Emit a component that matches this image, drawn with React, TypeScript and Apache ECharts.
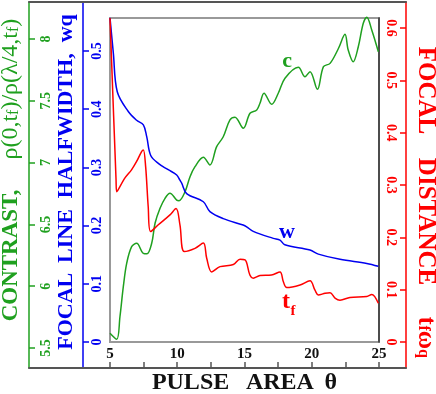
import React, { useEffect, useRef } from "react";
import * as echarts from "echarts";

// Pulse area (x) values and curves
const contrastX = [5, 5.5, 5.74, 5.99, 6.24, 6.61, 6.98, 7.48, 7.75, 8.1, 8.35, 8.72, 9.09, 9.46, 9.96, 10.13, 10.58, 10.95, 11.32, 11.94, 12.43, 12.93, 13.42, 13.92, 14.29, 14.91, 15.41, 15.91, 16.15, 16.45, 17.02, 17.51, 18.01, 19.0, 19.5, 19.87, 20.42, 20.87, 21.36, 21.99, 22.47, 22.71, 23.08, 23.46, 23.83, 24.09, 24.46, 24.95];
const contrastY = [5.619, 5.57, 5.753, 5.996, 6.185, 6.32, 6.347, 6.266, 6.262, 6.347, 6.509, 6.63, 6.711, 6.752, 6.697, 6.692, 6.765, 6.886, 6.967, 7.043, 6.981, 7.129, 7.209, 7.345, 7.366, 7.278, 7.399, 7.426, 7.48, 7.561, 7.472, 7.561, 7.682, 7.771, 7.695, 7.736, 7.593, 7.776, 7.803, 7.925, 8.038, 7.911, 7.816, 7.937, 8.127, 8.176, 8.073, 7.897];

const widthX = [5, 5.25, 5.54, 6.36, 6.98, 7.48, 7.73, 8.02, 8.59, 9.33, 9.96, 10.2, 10.33, 10.7, 11.94, 12.43, 13.42, 14.9, 15.16, 15.65, 17.14, 17.64, 18.0, 19.87, 20.49, 22.1, 24.09, 24.95];
const widthY = [0.557, 0.496, 0.43, 0.396, 0.381, 0.373, 0.353, 0.321, 0.307, 0.296, 0.287, 0.278, 0.273, 0.255, 0.241, 0.224, 0.212, 0.201, 0.198, 0.19, 0.178, 0.175, 0.167, 0.158, 0.151, 0.142, 0.135, 0.13];

const distX = [5, 5.45, 5.5, 6.1, 6.6, 6.98, 7.35, 7.48, 7.65, 7.84, 8.02, 8.59, 9.46, 9.91, 10.2, 10.52, 11.32, 11.94, 12.19, 12.56, 13.18, 14.17, 14.67, 15.04, 15.4, 15.65, 16.15, 17.0, 17.64, 17.89, 18.14, 19.13, 19.87, 20.24, 20.49, 20.99, 21.36, 21.73, 22.1, 22.84, 24.09, 24.46, 24.95];
const distY = [0.619, 0.31, 0.287, 0.313, 0.329, 0.345, 0.364, 0.367, 0.335, 0.259, 0.211, 0.224, 0.243, 0.255, 0.224, 0.173, 0.179, 0.189, 0.16, 0.134, 0.144, 0.148, 0.158, 0.157, 0.128, 0.122, 0.127, 0.128, 0.134, 0.115, 0.104, 0.109, 0.117, 0.099, 0.09, 0.093, 0.094, 0.084, 0.08, 0.085, 0.087, 0.091, 0.074];

// Tick values
const xTicks = [5, 7.5, 10, 12.5, 15, 17.5, 20, 22.5, 25];
const xLabels = [5, 10, 15, 20, 25];
const contrastTicks = [5.5, 6, 6.5, 7, 7.5, 8];
const widthTicks = [0, 0.1, 0.2, 0.3, 0.4, 0.5];
const distTicks = [0, 0.1, 0.2, 0.3, 0.4, 0.5, 0.6];

const GREEN = "#1fa01f";
const BLUE = "#0000f0";
const RED = "#ff0000";
const DARK = "#555555";
const FONT = "Liberation Serif";

const zip = (xs: number[], ys: number[]) => xs.map((x, i) => [x, ys[i]]);

export default function App() {
  const ref = useRef<HTMLDivElement>(null);
  useEffect(() => {
    const chart = echarts.init(ref.current!, null, { renderer: "svg" });
    const tickLabel = (color: string, rotate: number, margin: number) => ({
      inside: true,
      rotate,
      color,
      fontFamily: FONT,
      fontWeight: "bold" as const,
      fontSize: 14,
      margin,
    });
    const sub = (color: string, size = 15, weight: any = "bold") => ({ fontFamily: FONT, fontSize: size, fontWeight: weight, color, lineHeight: 10, verticalAlign: "bottom" as const });
    const main = (color: string, size = 23, weight: any = "bold") => ({ fontFamily: FONT, fontSize: size, fontWeight: weight, color, lineHeight: 22 });
    chart.setOption({
      animation: false,
      grid: [
        { left: 29, top: 2, width: 377, height: 366, show: false, outerBoundsMode: "none", containLabel: false },
        { left: 110, top: 18, width: 269, height: 324, show: true, borderColor: "#999", borderWidth: 2, backgroundColor: "transparent", outerBoundsMode: "none", containLabel: false },
      ],
      xAxis: [
        {
          type: "value", gridIndex: 0, position: "bottom", min: -1.022, max: 27.007,
          axisLine: { onZero: false, lineStyle: { color: DARK, width: 2 } },
          axisTick: { inside: true, length: 6, customValues: xTicks, lineStyle: { color: DARK, width: 1.5 } },
          axisLabel: { inside: true, customValues: xLabels, margin: 8, color: "#111", fontFamily: FONT, fontWeight: "bold", fontSize: 15 },
          splitLine: { show: false },
        },
        {
          type: "value", gridIndex: 0, position: "top", min: -1.022, max: 27.007,
          axisLine: { onZero: false, lineStyle: { color: DARK, width: 2 } },
          axisTick: { show: false }, axisLabel: { show: false }, splitLine: { show: false },
        },
        {
          type: "value", gridIndex: 1, position: "bottom", min: 5, max: 25,
          axisLine: { show: false, onZero: false }, axisTick: { show: false }, axisLabel: { show: false }, splitLine: { show: false },
          name: "PULSE   AREA  θ", nameLocation: "middle", nameGap: 27,
          nameTextStyle: { fontFamily: FONT, fontWeight: "bold", fontSize: 24, color: "#111" },
        },
      ],
      yAxis: [
        {
          type: "value", gridIndex: 0, position: "left", min: 5.3382, max: 8.2994,
          axisLine: { onZero: false, lineStyle: { color: GREEN, width: 1.5 } },
          axisTick: { inside: true, length: 6, customValues: contrastTicks, lineStyle: { color: GREEN, width: 1.5 } },
          axisLabel: { ...tickLabel(GREEN, 90, 9), customValues: contrastTicks },
          splitLine: { show: false },
          name: "{b|CONTRAST,}{n|     ρ(0,t}{s|f}{n|)/ρ(λ/4,t}{s|f}{n|)}",
          nameLocation: "middle", nameRotate: 90, nameGap: 0,
          nameTextStyle: { padding: [0, 0, 0, 30], rich: { b: main(GREEN), n: main(GREEN, 24, "normal"), s: sub(GREEN, 16, "normal") } },
        },
        {
          type: "value", gridIndex: 0, position: "left", offset: -54, min: -0.04467, max: 0.5842,
          axisLine: { onZero: false, lineStyle: { color: BLUE, width: 1.5 } },
          axisTick: { inside: true, length: 6, customValues: widthTicks, lineStyle: { color: BLUE, width: 1.5 } },
          axisLabel: { ...tickLabel(BLUE, 90, 6), customValues: widthTicks },
          splitLine: { show: false },
          name: "{b|FOCAL  LINE  HALFWIDTH,  wq}",
          nameLocation: "middle", nameRotate: 90, nameGap: 1,
          nameTextStyle: { padding: [0, 0, 0, 6], rich: { b: main(BLUE, 22) } },
        },
        {
          type: "value", gridIndex: 0, position: "right", min: -0.04968, max: 0.6497,
          axisLine: { onZero: false, lineStyle: { color: RED, width: 1.5 } },
          axisTick: { inside: true, length: 6, customValues: distTicks, lineStyle: { color: RED, width: 1.5 } },
          axisLabel: { ...tickLabel(RED, -90, 8), customValues: distTicks },
          splitLine: { show: false },
          name: "{b|FOCAL    DISTANCE     t}{s|f}{b|ω}{s|q}",
          nameLocation: "middle", nameRotate: -90, nameGap: 5,
          nameTextStyle: { padding: [0, 0, 0, 34], rich: { b: main(RED, 25), s: sub(RED, 16) } },
        },
        {
          type: "value", gridIndex: 1, position: "right", min: 0, max: 1,
          axisLine: { onZero: false, lineStyle: { color: "#333", width: 1.5 } },
          axisTick: { show: false }, axisLabel: { show: false }, splitLine: { show: false },
        },
      ],
      series: [
        { type: "line", xAxisIndex: 0, yAxisIndex: 0, data: zip(contrastX, contrastY), showSymbol: false, smooth: 0.35, lineStyle: { color: GREEN, width: 1.5 }, clip: false },
        { type: "line", xAxisIndex: 0, yAxisIndex: 1, data: zip(widthX, widthY), showSymbol: false, smooth: 0.35, lineStyle: { color: BLUE, width: 1.5 }, clip: false },
        { type: "line", xAxisIndex: 0, yAxisIndex: 2, data: zip(distX, distY), showSymbol: false, smooth: 0.35, lineStyle: { color: RED, width: 1.5 }, clip: false },
      ],
      graphic: [
        { type: "text", x: 287, y: 59, style: { text: "c", fill: GREEN, font: `bold 22px ${FONT}`, align: "center", verticalAlign: "middle" } },
        { type: "text", x: 287, y: 230, style: { text: "w", fill: BLUE, font: `bold 22px ${FONT}`, align: "center", verticalAlign: "middle" } },
        { type: "text", x: 286, y: 300, style: { text: "t", fill: RED, font: `bold 24px ${FONT}`, align: "center", verticalAlign: "middle" } },
        { type: "text", x: 293, y: 310, style: { text: "f", fill: RED, font: `bold 15px ${FONT}`, align: "center", verticalAlign: "middle" } },
      ],
    });
    return () => chart.dispose();
  }, []);
  return <div ref={ref} style={{ position: "fixed", left: 0, top: 0, width: 436, height: 394 }} />;
}
